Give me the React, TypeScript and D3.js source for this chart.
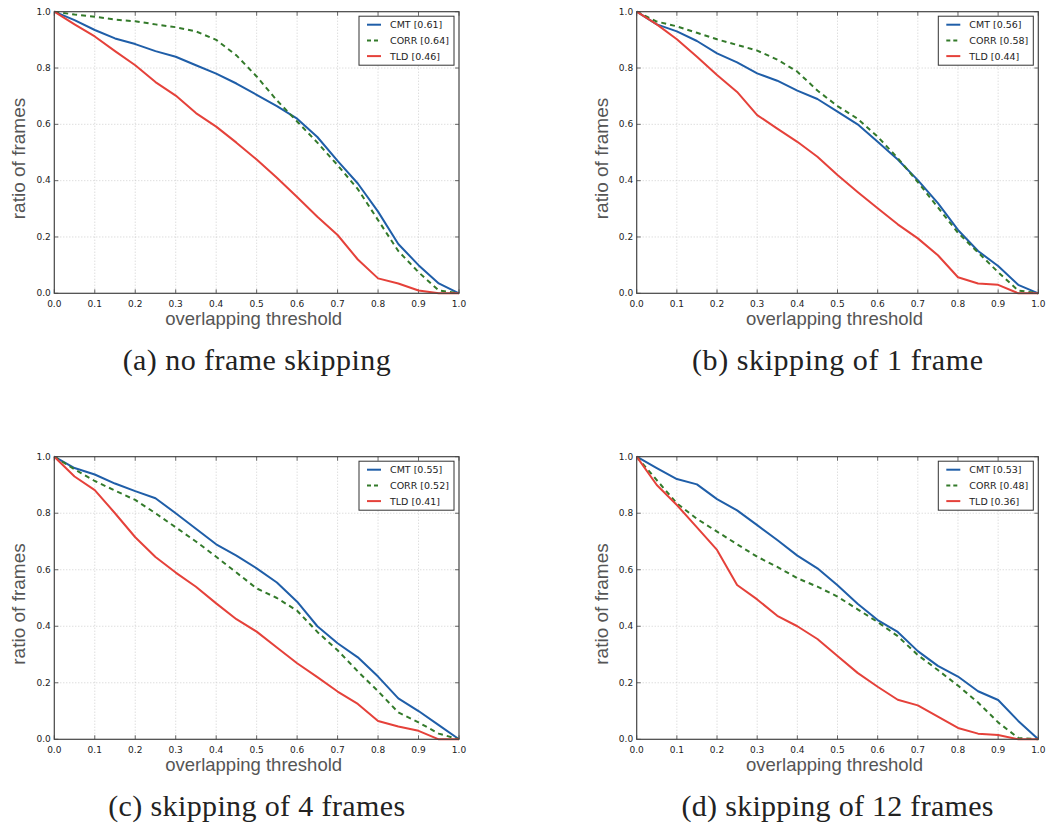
import React from 'react';
import * as d3 from 'd3';

// overlap thresholds at which the success ratio was sampled
const thresholds = [0, 0.05, 0.1, 0.15, 0.2, 0.25, 0.3, 0.35, 0.4, 0.45, 0.5, 0.55, 0.6, 0.65, 0.7, 0.75, 0.8, 0.85, 0.9, 0.95, 1.0];

// (a) no frame skipping
const cmtA = [1.0, 0.97, 0.935, 0.905, 0.885, 0.86, 0.84, 0.81, 0.78, 0.745, 0.705, 0.665, 0.62, 0.555, 0.47, 0.39, 0.29, 0.175, 0.1, 0.035, 0.0];
const corrA = [1.0, 0.99, 0.982, 0.972, 0.966, 0.955, 0.945, 0.93, 0.9, 0.845, 0.77, 0.685, 0.61, 0.535, 0.455, 0.37, 0.26, 0.15, 0.075, 0.01, 0.0];
const tldA = [1.0, 0.955, 0.912, 0.86, 0.81, 0.75, 0.702, 0.64, 0.592, 0.535, 0.475, 0.41, 0.342, 0.272, 0.207, 0.12, 0.053, 0.035, 0.01, 0.0, 0.0];

// (b) skipping of 1 frame
const cmtB = [1.0, 0.955, 0.93, 0.896, 0.852, 0.82, 0.781, 0.755, 0.72, 0.69, 0.645, 0.6, 0.538, 0.475, 0.402, 0.32, 0.225, 0.15, 0.097, 0.03, 0.0];
const corrB = [1.0, 0.965, 0.948, 0.925, 0.902, 0.882, 0.862, 0.83, 0.787, 0.72, 0.665, 0.62, 0.556, 0.48, 0.395, 0.305, 0.215, 0.145, 0.075, 0.01, 0.0];
const tldB = [1.0, 0.955, 0.902, 0.84, 0.775, 0.715, 0.633, 0.585, 0.538, 0.485, 0.42, 0.36, 0.302, 0.245, 0.195, 0.135, 0.057, 0.035, 0.03, 0.0, 0.0];

// (c) skipping of 4 frames
const cmtC = [1.0, 0.96, 0.937, 0.905, 0.878, 0.853, 0.8, 0.745, 0.69, 0.65, 0.605, 0.555, 0.487, 0.4, 0.34, 0.29, 0.222, 0.145, 0.1, 0.05, 0.0];
const corrC = [1.0, 0.955, 0.914, 0.88, 0.847, 0.8, 0.75, 0.7, 0.646, 0.59, 0.534, 0.5, 0.455, 0.38, 0.315, 0.24, 0.17, 0.095, 0.06, 0.02, 0.0];
const tldC = [1.0, 0.93, 0.882, 0.8, 0.715, 0.645, 0.59, 0.54, 0.481, 0.425, 0.381, 0.325, 0.269, 0.22, 0.169, 0.125, 0.065, 0.045, 0.03, 0.0, 0.0];

// (d) skipping of 12 frames
const cmtD = [1.0, 0.96, 0.921, 0.902, 0.85, 0.81, 0.758, 0.705, 0.65, 0.605, 0.545, 0.48, 0.422, 0.38, 0.312, 0.26, 0.222, 0.17, 0.139, 0.065, 0.0];
const corrD = [1.0, 0.917, 0.835, 0.78, 0.735, 0.69, 0.646, 0.61, 0.57, 0.54, 0.505, 0.46, 0.415, 0.365, 0.298, 0.245, 0.19, 0.13, 0.06, 0.005, 0.0];
const tldD = [1.0, 0.9, 0.829, 0.75, 0.67, 0.546, 0.495, 0.437, 0.4, 0.355, 0.295, 0.235, 0.186, 0.14, 0.12, 0.08, 0.04, 0.02, 0.015, 0.0, 0.0];

const trackers = ['CMT', 'CORR', 'TLD'];
const aucA = ['0.61', '0.64', '0.46'];
const aucB = ['0.56', '0.58', '0.44'];
const aucC = ['0.55', '0.52', '0.41'];
const aucD = ['0.53', '0.48', '0.36'];
const captions = ['(a) no frame skipping', '(b) skipping of 1 frame', '(c) skipping of 4 frames', '(d) skipping of 12 frames'];
const captionWidths = [268, 291, 297, 312];

const xTicks = [0, 0.1, 0.2, 0.3, 0.4, 0.5, 0.6, 0.7, 0.8, 0.9, 1.0];
const yTicks = [0, 0.2, 0.4, 0.6, 0.8, 1.0];

const colors = ['#1f5ea8', '#337a2a', '#e5413a'];
const dashes = [null, '5,4', null];

interface PanelProps {
  left: number;
  right: number;
  top: number;
  bottom: number;
  series: number[][];
  auc: string[];
  caption: string;
  captionWidth: number;
}

const Panel: React.FC<PanelProps> = ({ left, right, top, bottom, series, auc, caption, captionWidth }) => {
  const x = d3.scaleLinear().domain([0, 1]).range([left, right]);
  const y = d3.scaleLinear().domain([0, 1]).range([bottom, top]);
  const line = d3.line<number>()
    .x((_, i) => x(thresholds[i]))
    .y(d => y(d));

  const cx = (left + right) / 2;
  const cy = (top + bottom) / 2;
  const legX = right - 100;
  const legY = top + 4.5;

  return (
    <g>
      {/* dotted grid */}
      {xTicks.slice(1, -1).map(t => (
        <line key={'gx' + t} x1={x(t)} x2={x(t)} y1={top} y2={bottom}
          stroke="#c4c4c4" strokeWidth={0.8} strokeDasharray="1,2" />
      ))}
      {yTicks.slice(1, -1).map(t => (
        <line key={'gy' + t} x1={left} x2={right} y1={y(t)} y2={y(t)}
          stroke="#c4c4c4" strokeWidth={0.8} strokeDasharray="1,2" />
      ))}

      {/* inward ticks on all sides */}
      {xTicks.map(t => (
        <g key={'tx' + t} stroke="#444" strokeWidth={0.8}>
          <line x1={x(t)} x2={x(t)} y1={bottom} y2={bottom - 4} />
          <line x1={x(t)} x2={x(t)} y1={top} y2={top + 4} />
        </g>
      ))}
      {yTicks.map(t => (
        <g key={'ty' + t} stroke="#444" strokeWidth={0.8}>
          <line x1={left} x2={left + 4} y1={y(t)} y2={y(t)} />
          <line x1={right} x2={right - 4} y1={y(t)} y2={y(t)} />
        </g>
      ))}

      {/* curves */}
      {series.map((s, i) => (
        <path key={trackers[i]} d={line(s) || ''} fill="none" stroke={colors[i]}
          strokeWidth={2} strokeDasharray={dashes[i] || undefined} strokeLinejoin="round" />
      ))}

      {/* frame */}
      <rect x={left} y={top} width={right - left} height={bottom - top}
        fill="none" stroke="#444" strokeWidth={1.2} />

      {/* tick labels */}
      {xTicks.map(t => (
        <text key={'lx' + t} x={x(t)} y={bottom + 13.3} textAnchor="middle"
          fontFamily="DejaVu Sans" fontSize={9} fill="#222">{t.toFixed(1)}</text>
      ))}
      {yTicks.map(t => (
        <text key={'ly' + t} x={left - 3.5} y={y(t) + 2.8} textAnchor="end"
          fontFamily="DejaVu Sans" fontSize={9} fill="#222">{t.toFixed(1)}</text>
      ))}

      {/* axis labels */}
      <text x={cx - 3} y={bottom + 32} textAnchor="middle" fontFamily="Liberation Sans, Arial"
        fontSize={18.5} fill="#555">overlapping threshold</text>
      <text transform={`translate(${left - 29},${cy + 6}) rotate(-90)`} textAnchor="middle"
        fontFamily="Liberation Sans, Arial" fontSize={19} fill="#555">ratio of frames</text>

      {/* legend */}
      <rect x={legX} y={legY} width={95} height={49} fill="#fff" stroke="#333" strokeWidth={1} />
      {trackers.map((name, i) => (
        <g key={'leg' + name}>
          <line x1={legX + 8} x2={legX + 22} y1={legY + 8.5 + i * 15.7} y2={legY + 8.5 + i * 15.7}
            stroke={colors[i]} strokeWidth={2} strokeDasharray={dashes[i] ? '4,3' : undefined} />
          <text x={legX + 31} y={legY + 12 + i * 15.7} fontFamily="DejaVu Sans" fontSize={9.5}
            fill="#222">{`${name} [${auc[i]}]`}</text>
        </g>
      ))}

      {/* caption */}
      <text x={cx - captionWidth / 2} y={bottom + 77} textLength={captionWidth} lengthAdjust="spacing"
        fontFamily="Liberation Serif, Times New Roman" fontSize={30} fill="#222">{caption}</text>
    </g>
  );
};

const App: React.FC = () => {
  const cols = [[54.3, 459], [636.7, 1038.3]];
  const rows = [[11.7, 293.3], [456.7, 739.3]];
  const panels = [
    { series: [cmtA, corrA, tldA], auc: aucA },
    { series: [cmtB, corrB, tldB], auc: aucB },
    { series: [cmtC, corrC, tldC], auc: aucC },
    { series: [cmtD, corrD, tldD], auc: aucD },
  ];

  return (
    <svg width={1063} height={830} style={{ position: 'absolute', left: 0, top: 0, background: '#fff' }}>
      {panels.map((p, i) => {
        const [l, r] = cols[i % 2];
        const [t, b] = rows[Math.floor(i / 2)];
        return (
          <Panel key={i} left={l} right={r} top={t} bottom={b} series={p.series} auc={p.auc}
            caption={captions[i]} captionWidth={captionWidths[i]} />
        );
      })}
    </svg>
  );
};

export default App;
